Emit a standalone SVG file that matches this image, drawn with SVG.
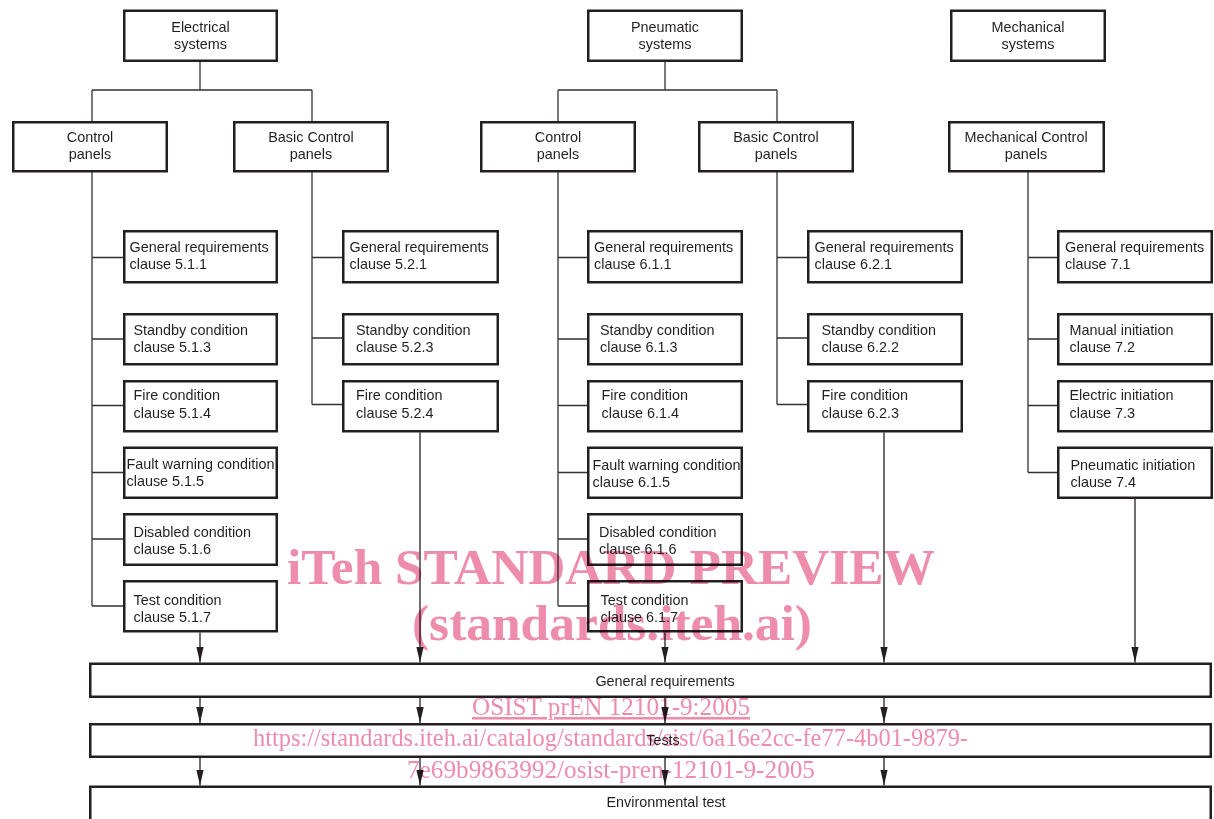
<svg xmlns="http://www.w3.org/2000/svg" width="1214" height="819" viewBox="0 0 1214 819">
<style>
.box{fill:#fff;stroke:#231f20;stroke-width:2.5}
.bar{fill:none;stroke:#231f20;stroke-width:2.5}
.ln{fill:none;stroke:#333;stroke-width:1.3}
.ar{fill:none;stroke:#231f20;stroke-width:1.3;marker-end:url(#ah)}
text{font-family:"Liberation Sans",Arial,sans-serif;font-size:14.4px;fill:#231f20}
.c{text-anchor:middle}
.wm text{font-family:"Liberation Serif","Times New Roman",serif;fill:#ee8cab;text-anchor:middle}
.wm .b{font-weight:bold;font-size:51px}
.wm .r{font-size:25.5px}
</style>
<defs>
<marker id="ah" markerUnits="userSpaceOnUse" markerWidth="16" markerHeight="8" viewBox="0 0 16 8" refX="16" refY="4" orient="auto"><path d="M0,0.3 L16,4 L0,7.7 Z" fill="#231f20"/></marker>
</defs>
<rect width="1214" height="819" fill="#fff"/>

<g id="connectors">
<path class="ln" d="M200,62 V90 M92,90 H312 M92,90 V121 M312,90 V121"/>
<path class="ln" d="M665,62 V90 M558,90 H777 M558,90 V121 M777,90 V121"/>
<path class="ln" d="M92,172 V606 M92,257.5 H123 M92,339 H123 M92,405.5 H123 M92,472.5 H123 M92,539 H123 M92,606 H123"/>
<path class="ln" d="M312,172 V404.5 M312,257.5 H342 M312,338 H342 M312,404.5 H342"/>
<path class="ln" d="M558,172 V606 M558,257.5 H587 M558,339 H587 M558,405.5 H587 M558,472.5 H587 M558,539 H587 M558,606 H587"/>
<path class="ln" d="M777,172 V404.5 M777,257.5 H807 M777,338 H807 M777,404.5 H807"/>
<path class="ln" d="M1028,172 V472.5 M1028,257.5 H1057 M1028,339 H1057 M1028,405.5 H1057 M1028,472.5 H1057"/>
<path class="ar" d="M200,632.5 V662.5"/>
<path class="ar" d="M420,432.5 V662.5"/>
<path class="ar" d="M665,632.5 V662.5"/>
<path class="ar" d="M884,432.5 V662.5"/>
<path class="ar" d="M1135,499 V662.5"/>
<path class="ar" d="M200,698 V723"/>
<path class="ar" d="M420,698 V723"/>
<path class="ar" d="M665,698 V723"/>
<path class="ar" d="M884,698 V723"/>
<path class="ar" d="M200,758 V785.5"/>
<path class="ar" d="M420,758 V785.5"/>
<path class="ar" d="M665,758 V785.5"/>
<path class="ar" d="M884,758 V785.5"/>
</g>

<g id="electrical-systems"><rect class="box" x="124.25" y="10.75" width="152.5" height="50"/><text class="c" x="200.5" y="32">Electrical</text><text class="c" x="200.5" y="49">systems</text></g>
<g id="pneumatic-systems"><rect class="box" x="588.25" y="10.75" width="153.5" height="50"/><text class="c" x="665" y="32">Pneumatic</text><text class="c" x="665" y="49">systems</text></g>
<g id="mechanical-systems"><rect class="box" x="951.25" y="10.75" width="153.5" height="50"/><text class="c" x="1028" y="32">Mechanical</text><text class="c" x="1028" y="49">systems</text></g>

<g id="e-control-panels"><rect class="box" x="13.25" y="122.25" width="153.5" height="49"/><text class="c" x="90" y="142">Control</text><text class="c" x="90" y="159">panels</text></g>
<g id="e-basic-control-panels"><rect class="box" x="234.25" y="122.25" width="153.5" height="49"/><text class="c" x="311" y="142">Basic Control</text><text class="c" x="311" y="159">panels</text></g>
<g id="p-control-panels"><rect class="box" x="481.25" y="122.25" width="153.5" height="49"/><text class="c" x="558" y="142">Control</text><text class="c" x="558" y="159">panels</text></g>
<g id="p-basic-control-panels"><rect class="box" x="699.25" y="122.25" width="153.5" height="49"/><text class="c" x="776" y="142">Basic Control</text><text class="c" x="776" y="159">panels</text></g>
<g id="mechanical-control-panels"><rect class="box" x="949.25" y="122.25" width="154.5" height="49"/><text class="c" x="1026" y="142">Mechanical Control</text><text class="c" x="1026" y="159">panels</text></g>

<g id="e511"><rect class="box" x="124.25" y="231.25" width="152.5" height="51"/><text x="129.5" y="252">General requirements</text><text x="129.5" y="269">clause 5.1.1</text></g>
<g id="e513"><rect class="box" x="124.25" y="314.25" width="152.5" height="50"/><text x="133.5" y="335">Standby condition</text><text x="133.5" y="352">clause 5.1.3</text></g>
<g id="e514"><rect class="box" x="124.25" y="381.25" width="152.5" height="50"/><text x="133.5" y="400">Fire condition</text><text x="133.5" y="418">clause 5.1.4</text></g>
<g id="e515"><rect class="box" x="124.25" y="447.75" width="152.5" height="50"/><text x="126.5" y="469">Fault warning condition</text><text x="126.5" y="486">clause 5.1.5</text></g>
<g id="e516"><rect class="box" x="124.25" y="514.25" width="152.5" height="50.5"/><text x="133.5" y="537">Disabled condition</text><text x="133.5" y="554">clause 5.1.6</text></g>
<g id="e517"><rect class="box" x="124.25" y="581.25" width="152.5" height="50"/><text x="133.5" y="605">Test condition</text><text x="133.5" y="622">clause 5.1.7</text></g>

<g id="e521"><rect class="box" x="343.25" y="231.25" width="154.5" height="51"/><text x="349.5" y="252">General requirements</text><text x="349.5" y="269">clause 5.2.1</text></g>
<g id="e523"><rect class="box" x="343.25" y="314.25" width="154.5" height="50"/><text x="356" y="335">Standby condition</text><text x="356" y="352">clause 5.2.3</text></g>
<g id="e524"><rect class="box" x="343.25" y="381.25" width="154.5" height="50"/><text x="356" y="400">Fire condition</text><text x="356" y="418">clause 5.2.4</text></g>

<g id="p611"><rect class="box" x="588.25" y="231.25" width="153.5" height="51"/><text x="594" y="252">General requirements</text><text x="594" y="269">clause 6.1.1</text></g>
<g id="p613"><rect class="box" x="588.25" y="314.25" width="153.5" height="50"/><text x="600" y="335">Standby condition</text><text x="600" y="352">clause 6.1.3</text></g>
<g id="p614"><rect class="box" x="588.25" y="381.25" width="153.5" height="50"/><text x="601.5" y="400">Fire condition</text><text x="601.5" y="418">clause 6.1.4</text></g>
<g id="p615"><rect class="box" x="588.25" y="447.75" width="153.5" height="50"/><text x="592.5" y="470">Fault warning condition</text><text x="592.5" y="487">clause 6.1.5</text></g>
<g id="p616"><rect class="box" x="588.25" y="514.25" width="153.5" height="50.5"/><text x="599" y="537">Disabled condition</text><text x="599" y="554">clause 6.1.6</text></g>
<g id="p617"><rect class="box" x="588.25" y="581.25" width="153.5" height="50"/><text x="600.5" y="605">Test condition</text><text x="600.5" y="622">clause 6.1.7</text></g>

<g id="p621"><rect class="box" x="808.25" y="231.25" width="153.5" height="51"/><text x="814.5" y="252">General requirements</text><text x="814.5" y="269">clause 6.2.1</text></g>
<g id="p622"><rect class="box" x="808.25" y="314.25" width="153.5" height="50"/><text x="821.5" y="335">Standby condition</text><text x="821.5" y="352">clause 6.2.2</text></g>
<g id="p623"><rect class="box" x="808.25" y="381.25" width="153.5" height="50"/><text x="821.5" y="400">Fire condition</text><text x="821.5" y="418">clause 6.2.3</text></g>

<g id="m71"><rect class="box" x="1058.25" y="231.25" width="153.5" height="51"/><text x="1065" y="252">General requirements</text><text x="1065" y="269">clause 7.1</text></g>
<g id="m72"><rect class="box" x="1058.25" y="314.25" width="153.5" height="50"/><text x="1069.5" y="335">Manual initiation</text><text x="1069.5" y="352">clause 7.2</text></g>
<g id="m73"><rect class="box" x="1058.25" y="381.25" width="153.5" height="50"/><text x="1069.5" y="400">Electric initiation</text><text x="1069.5" y="418">clause 7.3</text></g>
<g id="m74"><rect class="box" x="1058.25" y="447.75" width="153.5" height="50"/><text x="1070.5" y="470">Pneumatic initiation</text><text x="1070.5" y="487">clause 7.4</text></g>

<g id="general-requirements"><rect class="bar" x="90.25" y="663.75" width="1120.5" height="33"/><text class="c" x="665" y="686">General requirements</text></g>
<g id="tests"><rect class="bar" x="90.25" y="724.25" width="1120.5" height="32.5"/><text class="c" x="663" y="745">Tests</text></g>
<g id="environmental-test"><rect class="bar" x="90.25" y="786.75" width="1120.5" height="50"/><text class="c" x="666" y="807">Environmental test</text></g>

<g class="wm" style="mix-blend-mode:multiply">
<text class="b" x="611" y="584" textLength="648" lengthAdjust="spacingAndGlyphs">iTeh STANDARD PREVIEW</text>
<text class="b" x="612" y="640" textLength="400" lengthAdjust="spacingAndGlyphs">(standards.iteh.ai)</text>
<text class="r" x="611" y="715" textLength="278" lengthAdjust="spacingAndGlyphs" text-decoration="underline">OSIST prEN 12101-9:2005</text>
<text class="r" x="610.5" y="746" textLength="715" lengthAdjust="spacingAndGlyphs">https://standards.iteh.ai/catalog/standards/sist/6a16e2cc-fe77-4b01-9879-</text>
<text class="r" x="611" y="778" textLength="408" lengthAdjust="spacingAndGlyphs">7e69b9863992/osist-pren-12101-9-2005</text>
</g>
</svg>
